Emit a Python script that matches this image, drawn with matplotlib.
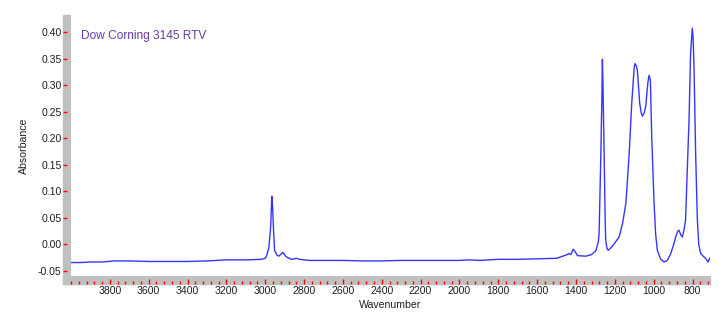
import matplotlib.pyplot as plt
from matplotlib.patches import Rectangle
from matplotlib.ticker import MultipleLocator, FormatStrFormatter

# spectrum (wavenumber, absorbance)
wavenumber = [3998, 3950, 3900, 3840, 3780, 3700, 3600, 3500, 3400, 3300,
              3200, 3100, 3020, 3000, 2994, 2981, 2972, 2966, 2962, 2958,
              2952, 2940, 2930, 2909, 2892, 2866, 2850, 2840, 2823, 2772,
              2600, 2500, 2400, 2300, 2200, 2100, 2000, 1950, 1900, 1800,
              1700, 1600, 1500, 1452, 1435, 1426, 1414, 1404, 1392, 1349,
              1320, 1298, 1285, 1281, 1272, 1267, 1264, 1261, 1255, 1250,
              1247, 1240, 1233, 1210, 1178, 1160, 1143, 1126, 1113, 1100,
              1096, 1090, 1084, 1072, 1064, 1058, 1050, 1041, 1030, 1024,
              1017, 1010, 998, 990, 981, 965, 947, 930, 912, 897,
              887, 876, 870, 860, 853, 845, 836, 818, 810, 801,
              797, 792, 784, 775, 768, 758, 745, 733, 720, 716, 712]
absorbance = [-0.034, -0.034, -0.033, -0.033, -0.031, -0.031, -0.032, -0.032, -0.032, -0.031,
              -0.029, -0.029, -0.028, -0.026, -0.023, -0.005, 0.033, 0.091, 0.070, 0.033,
              -0.011, -0.020, -0.022, -0.015, -0.023, -0.028, -0.027, -0.026, -0.028, -0.030,
              -0.030, -0.031, -0.031, -0.030, -0.030, -0.030, -0.030, -0.029, -0.030, -0.028,
              -0.028, -0.027, -0.026, -0.020, -0.017, -0.019, -0.009, -0.014, -0.021, -0.022,
              -0.019, -0.012, 0.005, 0.020, 0.170, 0.270, 0.349, 0.300, 0.170, 0.050,
              0.008, -0.008, -0.011, -0.002, 0.014, 0.040, 0.078, 0.172, 0.266, 0.335,
              0.341, 0.337, 0.329, 0.266, 0.248, 0.242, 0.247, 0.260, 0.305, 0.319,
              0.310, 0.203, 0.078, 0.020, -0.011, -0.027, -0.033, -0.030, -0.017, 0.000,
              0.014, 0.025, 0.027, 0.018, 0.014, 0.025, 0.046, 0.234, 0.360, 0.408,
              0.390, 0.329, 0.172, 0.046, 0.000, -0.017, -0.022, -0.026, -0.033, -0.030, -0.026]

title = 'Dow Corning 3145 RTV'

W, H = 725, 323
plt.rcParams['font.family'] = ['Liberation Sans', 'DejaVu Sans']
fig = plt.figure(figsize=(W / 100, H / 100), dpi=100)
ax = fig.add_axes([71 / W, 47 / H, 639 / W, 261 / H])

# gray axis bands
fig.add_artist(Rectangle((63 / W, 39 / H), 8 / W, 269 / H, transform=fig.transFigure,
                         color='#c0c0c0', zorder=-1))
fig.add_artist(Rectangle((63 / W, 39 / H), 647 / W, 8 / H, transform=fig.transFigure,
                         color='#c0c0c0', zorder=-1))

ax.plot(wavenumber, absorbance, color='#3535ff', lw=1.0)

ax.set_xlim(4000, 710)
ax.set_ylim(-0.0594, 0.4327)
for s in ['top', 'right']:
    ax.spines[s].set_visible(False)
for s in ['left', 'bottom']:
    ax.spines[s].set_position(('outward', 5.76))
    ax.spines[s].set_visible(False)

ax.xaxis.set_major_locator(MultipleLocator(200))
ax.xaxis.set_minor_locator(MultipleLocator(40))
ax.yaxis.set_major_locator(MultipleLocator(0.05))
ax.yaxis.set_major_formatter(FormatStrFormatter('%.2f'))
ax.set_xticks([v for v in range(800, 3801, 200)])
ax.tick_params(axis='x', which='major', direction='in', length=3.8, width=1.0,
               color='#ff0000', labelsize=7.6, pad=1.5, labelcolor='#202020')
ax.tick_params(axis='x', which='minor', direction='in', length=2.4, width=1.0, color='#ff0000')
ax.tick_params(axis='y', which='major', direction='in', length=3.2, width=1.0,
               color='#ff0000', labelsize=7.6, pad=1, labelcolor='#202020')

ax.set_xlabel('Wavenumber', fontsize=7.6, labelpad=3, color='#202020')
ax.set_ylabel('Absorbance', fontsize=7.6, labelpad=6.5, color='#202020')

fig.text(81 / W, (H - 39) / H, title, color='#6a3aa8', fontsize=8.6, va='baseline')

fig.savefig('out.png', dpi=100)
